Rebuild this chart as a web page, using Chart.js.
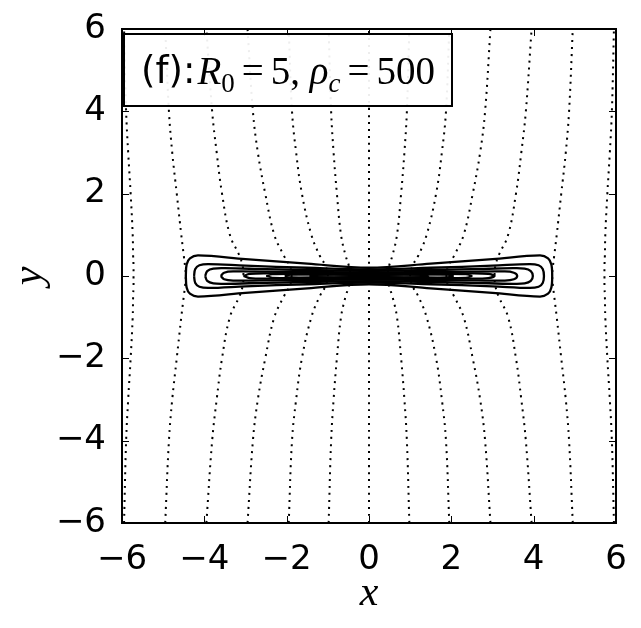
<!DOCTYPE html>
<html>
<head>
<meta charset="utf-8">
<script src="https://cdn.jsdelivr.net/npm/chart.js@4"></script>
<style>
  html, body { margin: 0; padding: 0; background: #fff; }
  #wrap { position: relative; width: 641px; height: 628px; }
  #legendBox {
    position: absolute; left: 123px; top: 33px; width: 310px; height: 70px;
    border: 2px solid #000; background: rgba(255,255,255,0.93);
    display: flex; align-items: center; padding-left: 16px; box-sizing: content-box;
    white-space: nowrap; color: #000;
  }
  #legendBox .sans { font-family: "DejaVu Sans"; font-size: 37px; }
  #legendBox .math { font-family: "Liberation Serif"; font-size: 39px; margin-left: 2px; }
  #legendBox .eq { margin: 0 7px; }
  #legendBox sub { font-size: 27px; vertical-align: -8px; line-height: 0; }
</style>
</head>
<body>
<div id="wrap">
  <canvas id="fieldChart" width="641" height="628"></canvas>
  <div id="legendBox"><span class="sans">(f):</span><span class="math"><i>R</i><sub>0</sub><span class="eq">=</span>5, <i>ρ</i><sub><i>c</i></sub><span class="eq">=</span>500</span></div>
</div>
<script>
// axis ticks
const tickValues = [-6, -4, -2, 0, 2, 4, 6];

// field lines (dotted): shared y samples, one row of x per line
const fieldY = [-6, -4, -3, -2, -1, -0.5, -0.25, 0, 0.25, 0.5, 1, 2, 3, 4, 6];
const fieldX = [
  [-5.95, -5.9, -5.85, -5.79, -5.74, -5.73, -5.72, -5.72, -5.72, -5.73, -5.74, -5.79, -5.85, -5.9, -5.95],
  [-4.95, -4.86, -4.78, -4.67, -4.56, -4.5, -4.47, -4.45, -4.47, -4.5, -4.56, -4.67, -4.78, -4.86, -4.95],
  [-3.95, -3.81, -3.7, -3.57, -3.38, -3.15, -3.07, -3.05, -3.07, -3.15, -3.38, -3.57, -3.7, -3.81, -3.95],
  [-2.95, -2.82, -2.7, -2.52, -2.3, -2.07, -1.93, -1.88, -1.93, -2.07, -2.3, -2.52, -2.7, -2.82, -2.95],
  [-1.95, -1.87, -1.77, -1.63, -1.4, -1.2, -1.06, -1.0, -1.06, -1.2, -1.4, -1.63, -1.77, -1.87, -1.95],
  [-0.98, -0.92, -0.86, -0.78, -0.68, -0.57, -0.49, -0.45, -0.49, -0.57, -0.68, -0.78, -0.86, -0.92, -0.98],
  [0, 0, 0, 0, 0, 0, 0, 0, 0, 0, 0, 0, 0, 0, 0],
  [0.98, 0.92, 0.86, 0.78, 0.68, 0.57, 0.49, 0.45, 0.49, 0.57, 0.68, 0.78, 0.86, 0.92, 0.98],
  [1.95, 1.87, 1.77, 1.63, 1.4, 1.2, 1.06, 1.0, 1.06, 1.2, 1.4, 1.63, 1.77, 1.87, 1.95],
  [2.95, 2.82, 2.7, 2.52, 2.3, 2.07, 1.93, 1.88, 1.93, 2.07, 2.3, 2.52, 2.7, 2.82, 2.95],
  [3.95, 3.81, 3.7, 3.57, 3.38, 3.15, 3.07, 3.05, 3.07, 3.15, 3.38, 3.57, 3.7, 3.81, 3.95],
  [4.95, 4.86, 4.78, 4.67, 4.56, 4.5, 4.47, 4.45, 4.47, 4.5, 4.56, 4.67, 4.78, 4.86, 4.95],
  [5.95, 5.9, 5.85, 5.79, 5.74, 5.73, 5.72, 5.72, 5.72, 5.73, 5.74, 5.79, 5.85, 5.9, 5.95]
];

// density contours (solid), each a closed loop of [x, y]
const contour1 = [[-4.45, 0], [-4.43, 0.28], [-4.35, 0.43], [-4.15, 0.5], [-3, 0.41], [-1.5, 0.3], [0, 0.2], [1.5, 0.3], [3, 0.41], [4.15, 0.5], [4.35, 0.43], [4.43, 0.28], [4.45, 0],
  [4.43, -0.28], [4.35, -0.43], [4.15, -0.5], [3, -0.41], [1.5, -0.3], [0, -0.2], [-1.5, -0.3], [-3, -0.41], [-4.15, -0.5], [-4.35, -0.43], [-4.43, -0.28], [-4.45, 0]];
const contour2 = [[-4.25, 0], [-4.22, 0.17], [-4.12, 0.26], [-3.9, 0.29], [-3, 0.25], [-1.5, 0.2], [0, 0.16], [1.5, 0.2], [3, 0.25], [3.9, 0.29], [4.12, 0.26], [4.22, 0.17], [4.25, 0],
  [4.22, -0.17], [4.12, -0.26], [3.9, -0.29], [3, -0.25], [1.5, -0.2], [0, -0.16], [-1.5, -0.2], [-3, -0.25], [-3.9, -0.29], [-4.12, -0.26], [-4.22, -0.17], [-4.25, 0]];
const contour3 = [[-3.98, 0], [-3.93, 0.12], [-3.78, 0.18], [-3.5, 0.19], [-2.5, 0.165], [-1.2, 0.14], [0, 0.125], [1.2, 0.14], [2.5, 0.165], [3.5, 0.19], [3.78, 0.18], [3.93, 0.12], [3.98, 0],
  [3.93, -0.12], [3.78, -0.18], [3.5, -0.19], [2.5, -0.165], [1.2, -0.14], [0, -0.125], [-1.2, -0.14], [-2.5, -0.165], [-3.5, -0.19], [-3.78, -0.18], [-3.93, -0.12], [-3.98, 0]];
const contour4 = [[-3.6, 0], [-3.52, 0.08], [-3.3, 0.11], [-2, 0.1], [0, 0.09], [2, 0.1], [3.3, 0.11], [3.52, 0.08], [3.6, 0],
  [3.52, -0.08], [3.3, -0.11], [2, -0.1], [0, -0.09], [-2, -0.1], [-3.3, -0.11], [-3.52, -0.08], [-3.6, 0]];
const contour5 = [[-3.05, 0], [-2.9, 0.05], [-2.5, 0.065], [-1, 0.06], [0, 0.06], [1, 0.06], [2.5, 0.065], [2.9, 0.05], [3.05, 0],
  [2.9, -0.05], [2.5, -0.065], [1, -0.06], [0, -0.06], [-1, -0.06], [-2.5, -0.065], [-2.9, -0.05], [-3.05, 0]];
const contour6 = [[-2.5, 0], [-2.35, 0.035], [-1.5, 0.04], [0, 0.035], [1.5, 0.04], [2.35, 0.035], [2.5, 0],
  [2.35, -0.035], [1.5, -0.04], [0, -0.035], [-1.5, -0.04], [-2.35, -0.035], [-2.5, 0]];
const contour7 = [[-2.05, 0], [-1.9, 0.025], [-1, 0.03], [0, 0.025], [1, 0.03], [1.9, 0.025], [2.05, 0],
  [1.9, -0.025], [1, -0.03], [0, -0.025], [-1, -0.03], [-1.9, -0.025], [-2.05, 0]];
const contour8 = [[-1.45, 0], [-1.3, 0.02], [0, 0.02], [1.3, 0.02], [1.45, 0],
  [1.3, -0.02], [0, -0.02], [-1.3, -0.02], [-1.45, 0]];
const contours = [contour1, contour2, contour3, contour4, contour5, contour6, contour7, contour8];

const datasets = [];
fieldX.forEach(function (xs) {
  datasets.push({
    data: xs.map(function (x, i) { return { x: x, y: fieldY[i] }; }),
    showLine: true, pointRadius: 0, borderColor: '#000', borderWidth: 2,
    borderDash: [2, 5], borderCapStyle: 'butt', tension: 0.4, fill: false
  });
});
contours.forEach(function (c, k) {
  datasets.push({
    data: c.map(function (p) { return { x: p[0], y: p[1] }; }),
    showLine: true, pointRadius: 0, borderColor: '#000', borderWidth: k < 5 ? 2.3 : 1.6,
    tension: 0.35, fill: false
  });
});

// inward ticks on all four sides + frame, like the matplotlib classic style
const frameTicks = {
  id: 'frameTicks',
  afterDatasetsDraw(chart) {
    const { ctx, chartArea: a, scales } = chart;
    ctx.save();
    ctx.strokeStyle = '#000';
    ctx.lineWidth = 1;
    tickValues.forEach(function (v) {
      const px = Math.round(scales.x.getPixelForValue(v)) + 0.5;
      const py = Math.round(scales.y.getPixelForValue(v)) + 0.5;
      ctx.beginPath();
      ctx.moveTo(px, a.bottom); ctx.lineTo(px, a.bottom - 7);
      ctx.moveTo(px, a.top); ctx.lineTo(px, a.top + 7);
      ctx.moveTo(a.left, py); ctx.lineTo(a.left + 7, py);
      ctx.moveTo(a.right, py); ctx.lineTo(a.right - 7, py);
      ctx.stroke();
    });
    ctx.lineWidth = 2;
    ctx.strokeRect(a.left, a.top, a.right - a.left, a.bottom - a.top);
    ctx.restore();
  }
};

const tickFont = { family: 'DejaVu Sans', size: 34 };
const fmt = function (v) { return v < 0 ? '\u2212' + Math.abs(v) : String(v); };

new Chart(document.getElementById('fieldChart').getContext('2d'), {
  type: 'scatter',
  data: { datasets: datasets },
  options: {
    responsive: false,
    animation: false,
    layout: { padding: { left: 0, right: 25, top: 29, bottom: 0 } },
    plugins: { legend: { display: false }, tooltip: { enabled: false } },
    scales: {
      x: {
        type: 'linear', min: -6, max: 6,
        afterBuildTicks: function (s) { s.ticks = tickValues.map(function (v) { return { value: v }; }); },
        afterFit: function (s) { s.height = 105; },
        grid: { display: false }, border: { display: false },
        ticks: { font: tickFont, color: '#000', padding: 9, callback: fmt, maxRotation: 0 },
        title: { display: true, text: 'x', color: '#000', padding: { top: 0, bottom: 9 },
          font: { family: 'Liberation Serif', size: 42, style: 'italic' } }
      },
      y: {
        type: 'linear', min: -6, max: 6,
        afterBuildTicks: function (s) { s.ticks = tickValues.map(function (v) { return { value: v }; }); },
        afterFit: function (s) { s.width = 122; },
        grid: { display: false }, border: { display: false },
        ticks: { font: tickFont, color: '#000', padding: 8, callback: fmt },
        title: { display: true, text: 'y', color: '#000', padding: { top: 5, bottom: 0 },
          font: { family: 'Liberation Serif', size: 42, style: 'italic' } }
      }
    }
  },
  plugins: [frameTicks]
});
</script>
</body>
</html>
